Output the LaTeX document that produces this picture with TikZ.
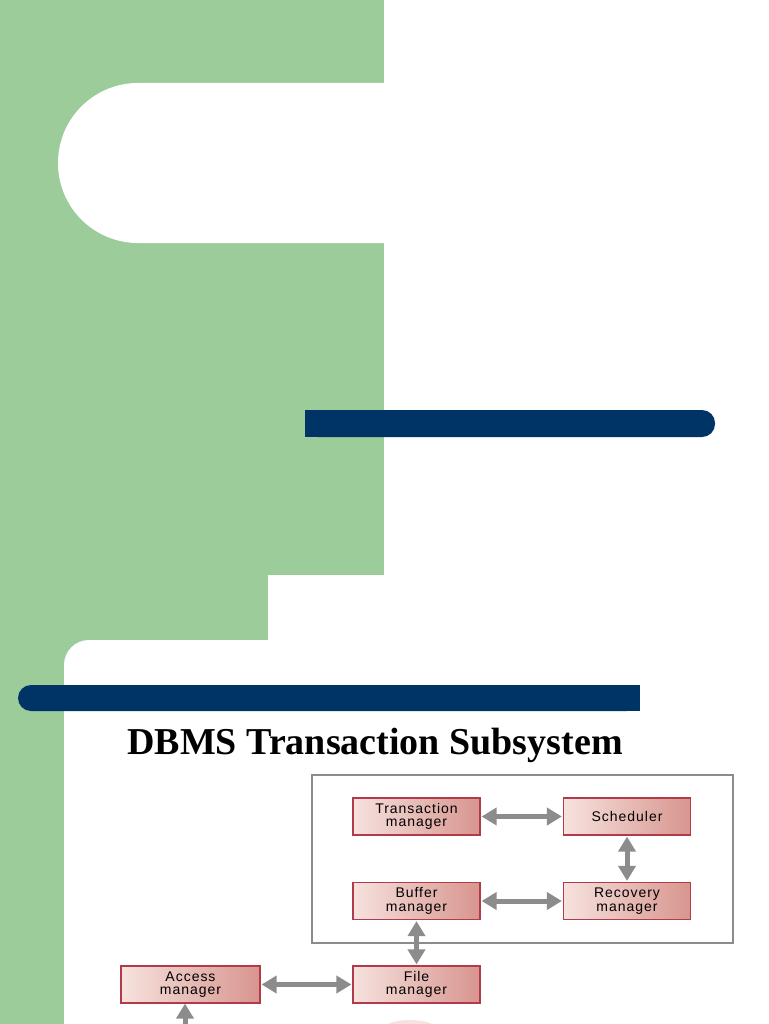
\documentclass[tikz,border=0pt]{standalone}
\usepackage{fontspec}
\setmainfont{Liberation Serif}
\setsansfont{Liberation Sans}
\newfontfamily\boxfont[LetterSpace=7]{Liberation Sans}
\usetikzlibrary{arrows.meta, positioning}
\definecolor{slidegreen}{HTML}{9CCC9A}
\definecolor{barblue}{HTML}{003366}
\definecolor{boxred}{HTML}{B23A4A}
\definecolor{boxlight}{HTML}{F6E2DE}
\definecolor{boxdark}{HTML}{D8958E}
\definecolor{arrowgray}{HTML}{8C8C8C}
\tikzset{
  mgr/.style={draw=boxred, line width=1.2pt, left color=boxlight, right color=boxdark,
    minimum width=127pt, minimum height=37pt, align=center, font=\boxfont\fontsize{14}{13.5}\selectfont, inner sep=0pt},
  dbl/.style={arrowgray, line width=5pt, {Triangle[length=15pt,width=17pt]}-{Triangle[length=15pt,width=17pt]}, shorten <=1pt, shorten >=1pt},
  one/.style={arrowgray, line width=5pt, -{Triangle[length=15pt,width=17pt]}},
}
\begin{document}
\begin{tikzpicture}[x=1pt, y=-1pt]
\useasboundingbox (0,0) rectangle (768,1024);
\fill[white] (0,0) rectangle (768,1024);
% background
\fill[slidegreen] (0,0) rectangle (384,575);
\fill[slidegreen] (0,575) rectangle (268,1024);
\fill[white, rounded corners=25pt] (64,640) rectangle (820,1080);
\fill[white] (384,83) -- (138,83) arc[start angle=270, end angle=90, radius=80] -- (384,243) -- cycle;
% bars
\fill[barblue, rounded corners=13pt] (305,410) rectangle (715,437);
\fill[barblue] (305,410) rectangle (690,437);
\fill[barblue, rounded corners=13pt] (18,685) rectangle (640,711);
\fill[barblue] (40,685) rectangle (640,711);
% title
\node[font=\bfseries\fontsize{38}{38}\selectfont] (title) at (375,745) {DBMS Transaction Subsystem};
% subsystem frame
\draw[arrowgray, line width=2pt] (312,775) rectangle (733,943);
\node[mgr] (tm) at (416.5,816.5) {Transaction\\manager};
\node[mgr] (sch) at (627,816.5) {Scheduler};
\node[mgr] (buf) at (416.5,901) {Buffer\\manager};
\node[mgr] (rec) at (627,901) {Recovery\\manager};
\node[mgr] (fm) at (416.5,984.5) {File\\manager};
\node[mgr, minimum width=139pt] (am) at (190.5,984.5) {Access\\manager};
\coordinate (amin) at (185,1040);
\draw[dbl] (tm) -- (sch);
\draw[dbl] (sch) -- (rec);
\draw[dbl] (buf) -- (rec);
\draw[dbl] (buf) -- (fm);
\draw[dbl] (am) -- (fm);
\draw[one] (amin) -- (am.south -| amin);
\fill[boxlight] (410,1034) ellipse[x radius=32, y radius=14];
\end{tikzpicture}
\end{document}
